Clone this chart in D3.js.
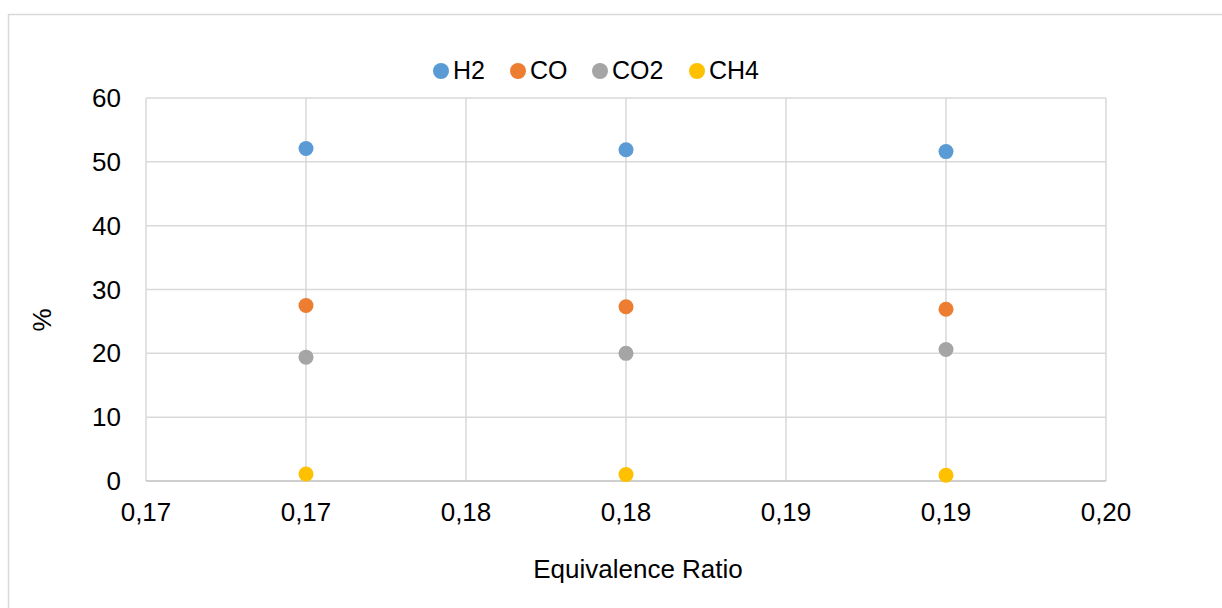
<!DOCTYPE html>
<html>
<head>
    <script src="https://d3js.org/d3.v7.min.js" charset="utf-8"></script>
    <style>
        body { margin: 0; background: #fff; }
        svg { font-family: "Liberation Sans", Arial, sans-serif; }
        .grid line { stroke: #d9d9d9; stroke-width: 1.5; }
    </style>
</head>
<body>
    <script>
        // data
        var ratios = [0.17, 0.18, 0.19];
        var h2 = [52.1, 51.9, 51.6];
        var co = [27.5, 27.3, 26.9];
        var co2 = [19.4, 20.0, 20.6];
        var ch4 = [1.1, 1.0, 0.9];
        var seriesNames = ["H2", "CO", "CO2", "CH4"];
        var seriesColors = ["#5b9bd5", "#ed7d31", "#a5a5a5", "#ffc000"];
        var xTicks = [0.165, 0.17, 0.175, 0.18, 0.185, 0.19, 0.195];
        var xTickLabels = ["0,17", "0,17", "0,18", "0,18", "0,19", "0,19", "0,20"];
        var yTicks = [0, 10, 20, 30, 40, 50, 60];

        var series = [h2, co, co2, ch4];

        var width = 1222, height = 608;
        var plot = { left: 146, right: 1106, top: 98, bottom: 481 };
        var fontSize = 26;

        var svg = d3.select("body").append("svg")
            .attr("width", width)
            .attr("height", height);

        // chart frame
        svg.append("rect")
            .attr("x", 8.5).attr("y", 14.5)
            .attr("width", width).attr("height", height)
            .attr("fill", "none")
            .attr("stroke", "#d9d9d9")
            .attr("stroke-width", 1.5);

        var x = d3.scaleLinear()
            .domain([0.165, 0.195])
            .range([plot.left, plot.right]);

        var y = d3.scaleLinear()
            .domain([0, 60])
            .range([plot.bottom, plot.top]);

        var grid = svg.append("g").attr("class", "grid");

        grid.selectAll(".h")
            .data(yTicks.slice(1))
            .enter().append("line")
            .attr("x1", plot.left).attr("x2", plot.right)
            .attr("y1", function (d) { return y(d); })
            .attr("y2", function (d) { return y(d); });

        grid.selectAll(".v")
            .data(xTicks)
            .enter().append("line")
            .attr("y1", plot.top).attr("y2", plot.bottom)
            .attr("x1", function (d) { return x(d); })
            .attr("x2", function (d) { return x(d); });

        // bottom axis line
        svg.append("line")
            .attr("x1", plot.left).attr("x2", plot.right)
            .attr("y1", y(0)).attr("y2", y(0))
            .attr("stroke", "#bfbfbf")
            .attr("stroke-width", 1.5);

        // y tick labels
        svg.selectAll(".ylab")
            .data(yTicks)
            .enter().append("text")
            .attr("x", 121)
            .attr("y", function (d) { return y(d) + 9; })
            .attr("text-anchor", "end")
            .attr("font-size", fontSize)
            .attr("fill", "#000")
            .text(function (d) { return d; });

        // x tick labels
        svg.selectAll(".xlab")
            .data(xTicks)
            .enter().append("text")
            .attr("x", function (d) { return x(d); })
            .attr("y", 521)
            .attr("text-anchor", "middle")
            .attr("font-size", fontSize)
            .attr("fill", "#000")
            .text(function (d, i) { return xTickLabels[i]; });

        // axis titles
        svg.append("text")
            .attr("x", 638).attr("y", 578)
            .attr("text-anchor", "middle")
            .attr("font-size", fontSize)
            .text("Equivalence Ratio");

        svg.append("text")
            .attr("transform", "translate(51,320) rotate(-90)")
            .attr("text-anchor", "middle")
            .attr("font-size", fontSize)
            .text("%");

        // points
        series.forEach(function (vals, si) {
            svg.append("g").selectAll("circle")
                .data(vals)
                .enter().append("circle")
                .attr("cx", function (d, i) { return x(ratios[i]); })
                .attr("cy", function (d) { return y(d); })
                .attr("r", 7.5)
                .attr("fill", seriesColors[si]);
        });

        // legend
        var legendX = [441, 518, 600, 697];
        var legend = svg.append("g");
        seriesNames.forEach(function (name, i) {
            legend.append("circle")
                .attr("cx", legendX[i]).attr("cy", 71)
                .attr("r", 8)
                .attr("fill", seriesColors[i]);
            legend.append("text")
                .attr("x", legendX[i] + 12).attr("y", 79)
                .attr("font-size", 25)
                .text(name);
        });
    </script>
</body>
</html>
